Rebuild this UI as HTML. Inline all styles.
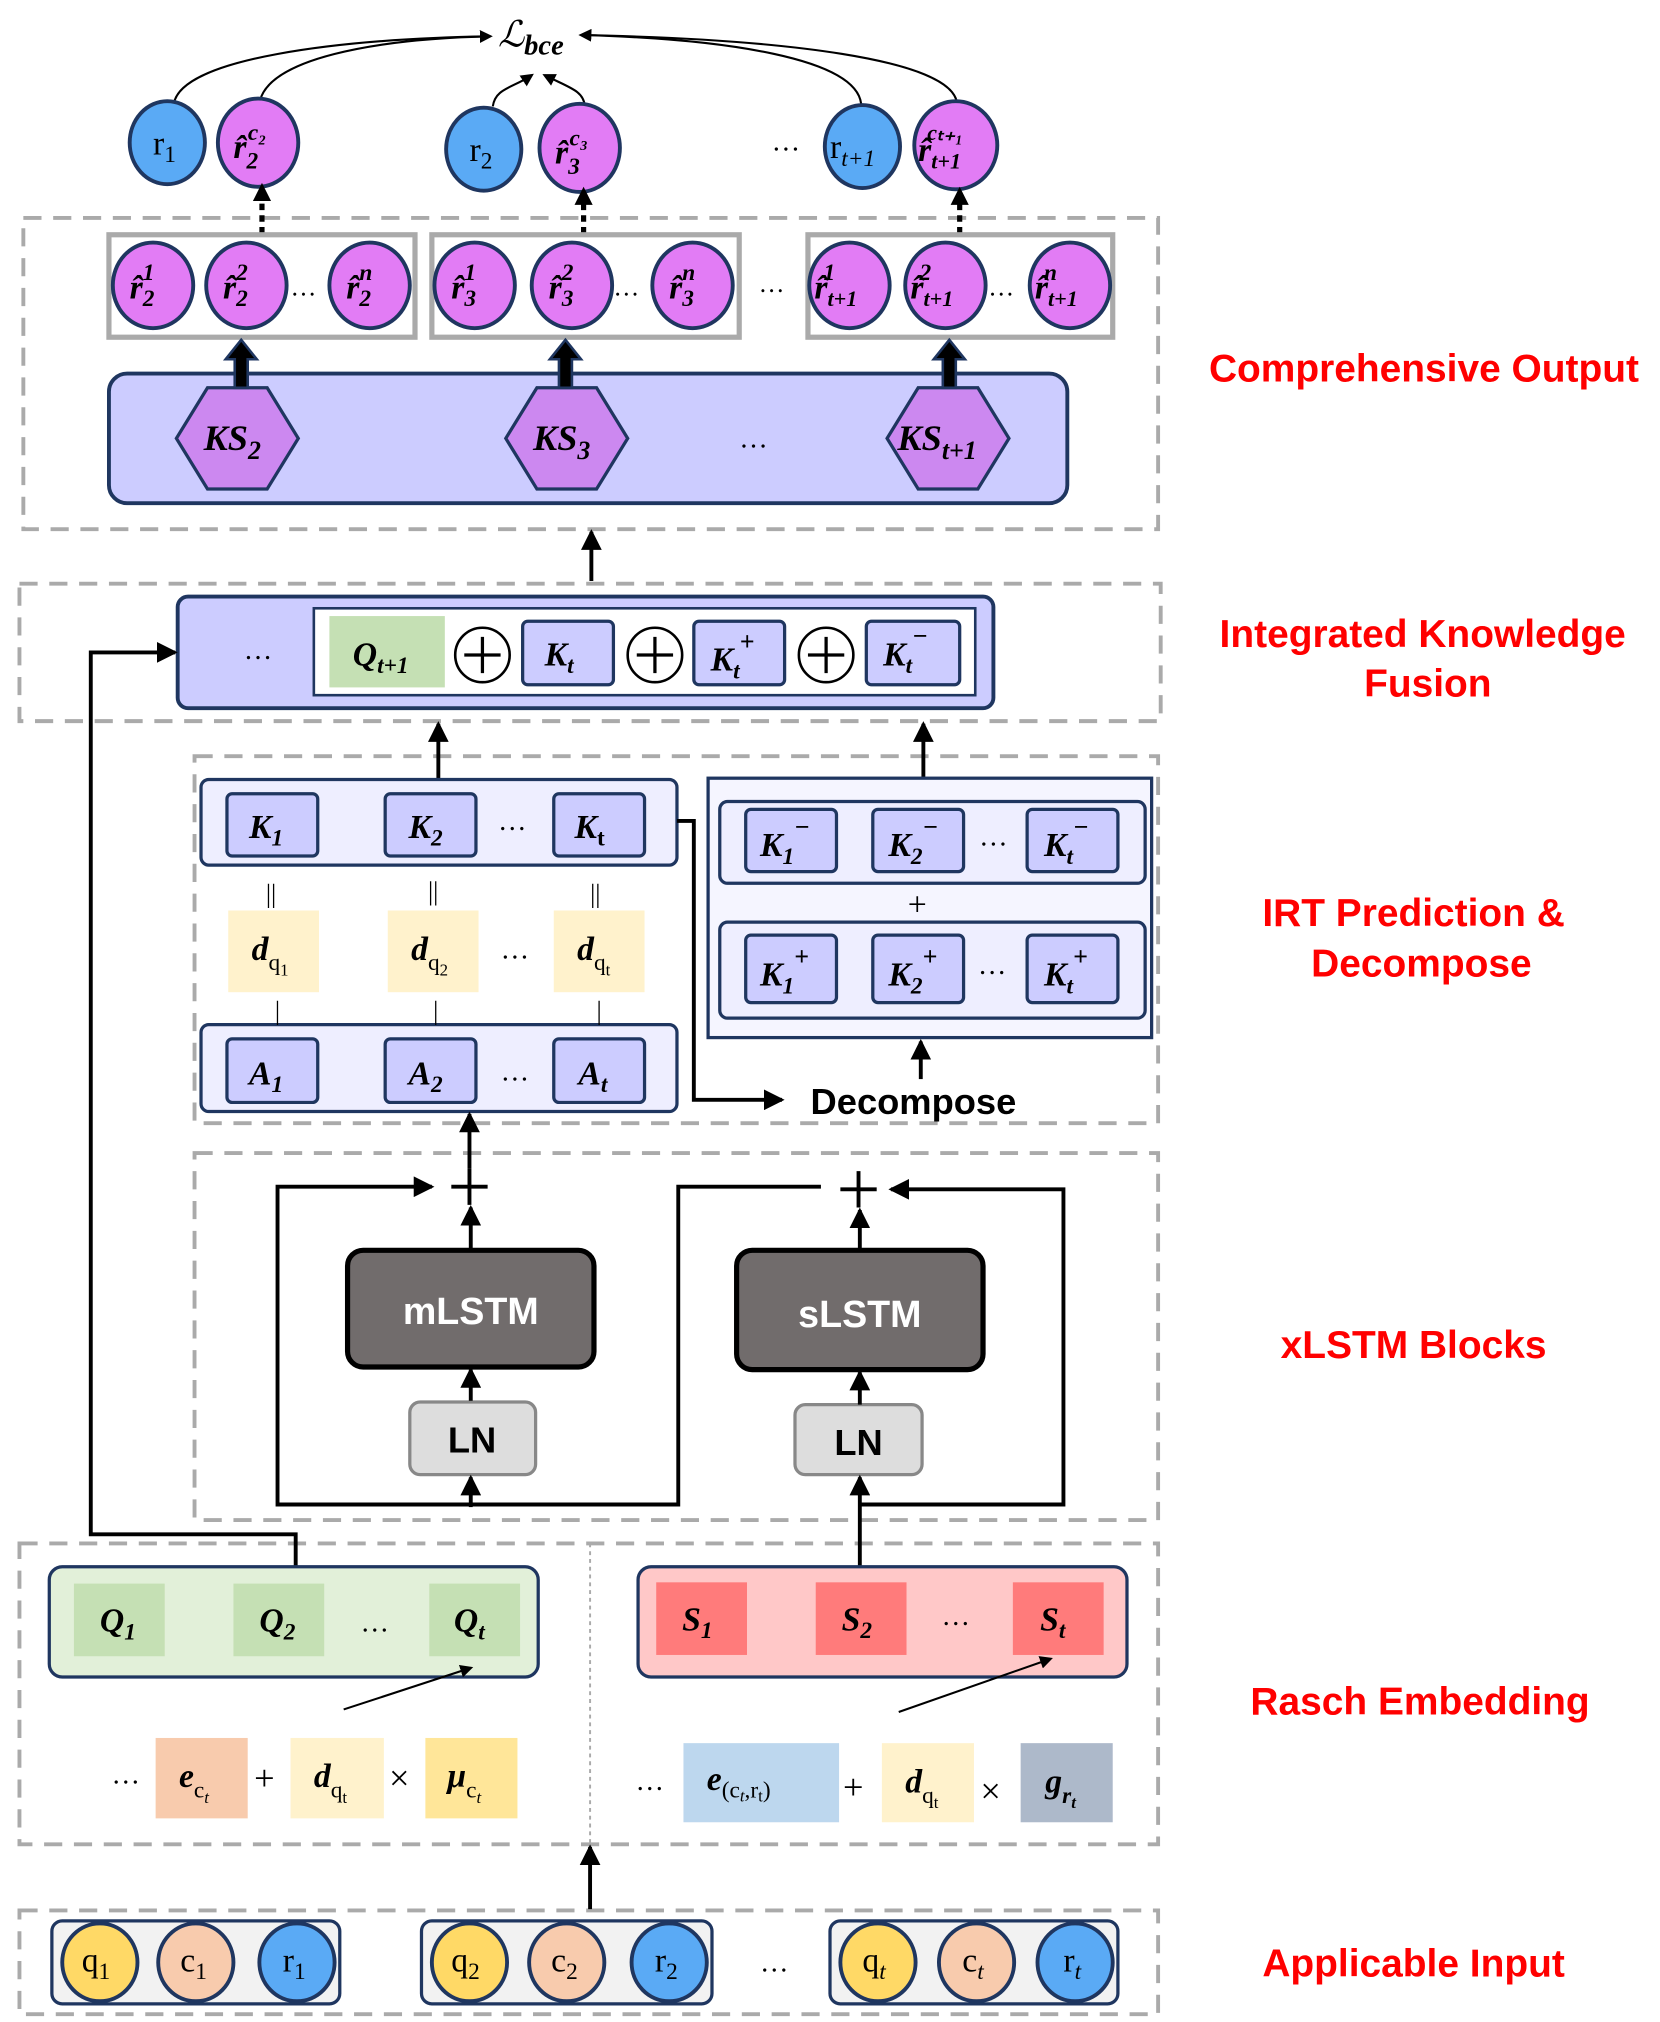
<!DOCTYPE html>
<html><head><meta charset="utf-8"><style>
html,body{margin:0;padding:0;background:#fff}
svg{display:block}
.m{font-family:"Liberation Serif",serif;font-style:italic;font-weight:bold}
.r{font-family:"Liberation Serif",serif}
.lab{font-family:"Liberation Sans",sans-serif;font-weight:bold;fill:#ff0000;font-size:30px}
</style></head><body>
<svg width="1660" height="2022" viewBox="0 0 1280 1559" preserveAspectRatio="none" xmlns="http://www.w3.org/2000/svg">
<defs>
<marker id="a" markerWidth="10" markerHeight="10" refX="8" refY="5" orient="auto" markerUnits="userSpaceOnUse"><path d="M0,0 L10,5 L0,10 z" fill="#000"/></marker>
<marker id="b" markerWidth="16" markerHeight="16" refX="14" refY="8" orient="auto" markerUnits="userSpaceOnUse"><path d="M0,0 L16,8 L0,16 z" fill="#000"/></marker>
</defs>
<g fill="none" stroke="#aaa" stroke-width="3" stroke-dasharray="14,9">
<rect x="18" y="168" width="875" height="240"/>
<rect x="15" y="450" width="880" height="106"/>
<rect x="150" y="583" width="743" height="283"/>
<rect x="150" y="889" width="743" height="283"/>
<rect x="15" y="1190" width="878" height="232"/>
<rect x="15" y="1473" width="878" height="80"/>
</g>
<line x1="455" y1="1190" x2="455" y2="1422" stroke="#aaa" stroke-width="1.5" stroke-dasharray="3,3"/>
<!-- top loss -->
<text x="384" y="36" class="r" font-style="italic" font-size="28">ℒ<tspan class="m" font-size="22" dy="6">bce</tspan></text>
<g fill="none" stroke="#000" stroke-width="1.6">
<path d="M134,80 C140,45 260,30 378,28" marker-end="url(#a)"/>
<path d="M200,80 C205,45 290,30 378,28"/>
<path d="M664,80 C660,45 560,30 448,27" marker-end="url(#a)"/>
<path d="M738,80 C735,45 600,30 448,27"/>
<path d="M380,82 C382,68 395,68 410,58" marker-end="url(#a)"/>
<path d="M451,82 C450,70 440,68 420,58" marker-end="url(#a)"/>
</g>
<g stroke="#1f3660" stroke-width="3">
<ellipse cx="129" cy="110" rx="29" ry="32" fill="#5aaaf5"/>
<ellipse cx="199" cy="110" rx="31" ry="34" fill="#e27cf5"/>
<ellipse cx="373" cy="115" rx="29" ry="32" fill="#5aaaf5"/>
<ellipse cx="447" cy="114" rx="31" ry="34" fill="#e27cf5"/>
<ellipse cx="665" cy="113" rx="29" ry="32" fill="#5aaaf5"/>
<ellipse cx="737" cy="112" rx="32" ry="34" fill="#e27cf5"/>
</g>
<g font-size="26">
<text x="118" y="119" class="r">r<tspan font-size="18" dy="6">1</tspan></text>
<text x="362" y="124" class="r">r<tspan font-size="18" dy="6">2</tspan></text>
<text x="640" y="122" class="r">r<tspan font-size="18" dy="6" font-style="italic">t+1</tspan></text>
<text x="180" y="122" class="m">r̂<tspan font-size="18" dy="8">2</tspan><tspan font-size="18" dx="-8" dy="-22">c₂</tspan></text>
<text x="428" y="126" class="m">r̂<tspan font-size="18" dy="8">3</tspan><tspan font-size="18" dx="-8" dy="-22">c₃</tspan></text>
<text x="708" y="124" class="m">r̂<tspan font-size="17" dy="6">t+1</tspan><tspan font-size="17" dx="-26" dy="-22">cₜ₊₁</tspan></text>
</g>
<text x="595" y="116" font-size="22" class="r">…</text>
<!-- dotted arrows -->
<g stroke="#000" stroke-width="4" stroke-dasharray="5,4">
<line x1="202" y1="180" x2="202" y2="152"/><line x1="450" y1="180" x2="450" y2="156"/><line x1="740" y1="180" x2="740" y2="156"/>
</g>
<path d="M195,155 L209,155 L202,141z M443,158 L457,158 L450,144z M733,158 L747,158 L740,144z" fill="#000"/>
<!-- groups -->
<g fill="#fff" stroke="#aaa" stroke-width="4">
<rect x="84" y="181" width="236" height="79"/><rect x="333" y="181" width="237" height="79"/><rect x="623" y="181" width="235" height="79"/>
</g>
<g stroke="#1f3660" stroke-width="3" fill="#e27cf5">
<ellipse cx="118" cy="220" rx="31" ry="33"/><ellipse cx="190" cy="220" rx="31" ry="33"/><ellipse cx="285" cy="220" rx="31" ry="33"/>
<ellipse cx="366" cy="220" rx="31" ry="33"/><ellipse cx="441" cy="220" rx="31" ry="33"/><ellipse cx="534" cy="220" rx="31" ry="33"/>
<ellipse cx="655" cy="220" rx="31" ry="33"/><ellipse cx="729" cy="220" rx="31" ry="33"/><ellipse cx="825" cy="220" rx="31" ry="33"/>
</g>
<g font-size="26" class="m">
<text x="100" y="230">r̂<tspan font-size="18" dy="6">2</tspan><tspan font-size="18" dx="-9" dy="-20">1</tspan></text>
<text x="172" y="230">r̂<tspan font-size="18" dy="6">2</tspan><tspan font-size="18" dx="-9" dy="-20">2</tspan></text>
<text x="267" y="230">r̂<tspan font-size="18" dy="6">2</tspan><tspan font-size="18" dx="-9" dy="-20">n</tspan></text>
<text x="348" y="230">r̂<tspan font-size="18" dy="6">3</tspan><tspan font-size="18" dx="-9" dy="-20">1</tspan></text>
<text x="423" y="230">r̂<tspan font-size="18" dy="6">3</tspan><tspan font-size="18" dx="-9" dy="-20">2</tspan></text>
<text x="516" y="230">r̂<tspan font-size="18" dy="6">3</tspan><tspan font-size="18" dx="-9" dy="-20">n</tspan></text>
<text x="628" y="230">r̂<tspan font-size="17" dy="6">t+1</tspan><tspan font-size="18" dx="-26" dy="-20">1</tspan></text>
<text x="702" y="230">r̂<tspan font-size="17" dy="6">t+1</tspan><tspan font-size="18" dx="-26" dy="-20">2</tspan></text>
<text x="798" y="230">r̂<tspan font-size="17" dy="6">t+1</tspan><tspan font-size="18" dx="-26" dy="-20">n</tspan></text>
</g>
<g font-size="20" class="r"><text x="224" y="228">…</text><text x="473" y="228">…</text><text x="762" y="228">…</text><text x="585" y="225">…</text></g>
<!-- KS bar -->
<rect x="84" y="288" width="739" height="100" rx="14" fill="#ccccff" stroke="#1f3660" stroke-width="3"/>
<g fill="#cc88f0" stroke="#1f3660" stroke-width="2.5">
<polygon points="160,299 206,299 230,338 206,377 160,377 136,338"/>
<polygon points="414,299 460,299 484,338 460,377 414,377 390,338"/>
<polygon points="708,299 754,299 778,338 754,377 708,377 684,338"/>
</g>
<g font-size="28" class="m">
<text x="157" y="347">KS<tspan font-size="20" dy="7">2</tspan></text>
<text x="411" y="347">KS<tspan font-size="20" dy="7">3</tspan></text>
<text x="692" y="347">KS<tspan font-size="20" dy="7">t+1</tspan></text>
</g>
<text x="570" y="345" font-size="22" class="r">…</text>
<g fill="#000" stroke="#1f3660" stroke-width="2">
<path d="M181,299 L181,277 L174,277 L186,262 L198,277 L191,277 L191,299z"/>
<path d="M431,299 L431,277 L424,277 L436,262 L448,277 L441,277 L441,299z"/>
<path d="M727,299 L727,277 L720,277 L732,262 L744,277 L737,277 L737,299z"/>
</g>
<!-- fusion -->
<line x1="456" y1="448" x2="456" y2="410" stroke="#000" stroke-width="3" marker-end="url(#b)"/>
<rect x="137" y="460" width="629" height="86" rx="8" fill="#ccccff" stroke="#1f3660" stroke-width="3"/>
<rect x="242" y="469" width="510" height="67" fill="#fff" stroke="#1f3660" stroke-width="2"/>
<rect x="254" y="475" width="89" height="55" fill="#c5e0b4"/>
<text x="188" y="508" font-size="22" class="r">…</text>
<text x="272" y="513" font-size="26" class="m">Q<tspan font-size="18" dy="6">t+1</tspan></text>
<g fill="#fff" stroke="#000" stroke-width="2"><circle cx="372" cy="505" r="21"/><circle cx="505" cy="505" r="21"/><circle cx="637" cy="505" r="21"/></g>
<g stroke="#000" stroke-width="2.5"><path d="M358,505h28M372,491v28M491,505h28M505,491v28M623,505h28M637,491v28"/></g>
<g fill="#ccccff" stroke="#1f3660" stroke-width="2.5">
<rect x="403" y="479" width="70" height="49" rx="4"/><rect x="535" y="479" width="70" height="49" rx="4"/><rect x="668" y="479" width="72" height="49" rx="4"/>
</g>
<g font-size="26" class="m">
<text x="420" y="513">K<tspan font-size="18" dy="6">t</tspan></text>
<text x="548" y="517">K<tspan font-size="18" dy="6">t</tspan><tspan font-size="20" dy="-22">+</tspan></text>
<text x="681" y="513">K<tspan font-size="18" dy="6">t</tspan><tspan font-size="20" dy="-22">−</tspan></text>
</g>
<polyline points="228,1208 228,1183 70,1183 70,503 135,503" fill="none" stroke="#000" stroke-width="3" marker-end="url(#b)"/>
<!-- IRT -->
<line x1="338" y1="601" x2="338" y2="558" stroke="#000" stroke-width="3" marker-end="url(#b)"/>
<line x1="712" y1="600" x2="712" y2="558" stroke="#000" stroke-width="3" marker-end="url(#b)"/>
<g fill="#eeeeff" stroke="#1f3660" stroke-width="2.5">
<rect x="155" y="601" width="367" height="66" rx="6"/><rect x="155" y="790" width="367" height="67" rx="6"/>
<rect x="546" y="600" width="342" height="200" fill="#f5f5ff"/>
<rect x="555" y="618" width="328" height="63" rx="6"/><rect x="555" y="711" width="328" height="74" rx="6"/>
</g>
<g fill="#ccccff" stroke="#1f3660" stroke-width="2.5">
<rect x="175" y="612" width="70" height="48" rx="4"/><rect x="297" y="612" width="70" height="48" rx="4"/><rect x="427" y="612" width="70" height="48" rx="4"/>
<rect x="175" y="801" width="70" height="49" rx="4"/><rect x="297" y="801" width="70" height="49" rx="4"/><rect x="427" y="801" width="70" height="49" rx="4"/>
<rect x="575" y="624" width="70" height="48" rx="4"/><rect x="673" y="624" width="70" height="48" rx="4"/><rect x="792" y="624" width="70" height="48" rx="4"/>
<rect x="575" y="721" width="70" height="52" rx="4"/><rect x="673" y="721" width="70" height="52" rx="4"/><rect x="792" y="721" width="70" height="52" rx="4"/>
</g>
<g fill="#fff2cc"><rect x="176" y="702" width="70" height="63"/><rect x="299" y="702" width="70" height="63"/><rect x="427" y="702" width="70" height="63"/></g>
<g font-size="26" class="m">
<text x="192" y="646">K<tspan font-size="18" dy="6">1</tspan></text>
<text x="315" y="646">K<tspan font-size="18" dy="6">2</tspan></text>
<text x="443" y="646">K<tspan font-size="18" dy="6" font-style="normal">t</tspan></text>
<text x="192" y="836">A<tspan font-size="18" dy="6">1</tspan></text>
<text x="315" y="836">A<tspan font-size="18" dy="6">2</tspan></text>
<text x="446" y="836">A<tspan font-size="18" dy="6">t</tspan></text>
<text x="194" y="740">d<tspan font-size="18" dy="8" font-style="normal" font-weight="normal">q<tspan font-size="13" dy="4">1</tspan></tspan></text>
<text x="317" y="740">d<tspan font-size="18" dy="8" font-style="normal" font-weight="normal">q<tspan font-size="13" dy="4">2</tspan></tspan></text>
<text x="445" y="740">d<tspan font-size="18" dy="8" font-style="normal" font-weight="normal">q<tspan font-size="13" dy="4">t</tspan></tspan></text>
<text x="586" y="660">K<tspan font-size="18" dy="6">1</tspan><tspan font-size="20" dy="-22">−</tspan></text>
<text x="685" y="660">K<tspan font-size="18" dy="6">2</tspan><tspan font-size="20" dy="-22">−</tspan></text>
<text x="805" y="660">K<tspan font-size="18" dy="6">t</tspan><tspan font-size="20" dy="-22">−</tspan></text>
<text x="586" y="760">K<tspan font-size="18" dy="6">1</tspan><tspan font-size="20" dy="-22">+</tspan></text>
<text x="685" y="760">K<tspan font-size="18" dy="6">2</tspan><tspan font-size="20" dy="-22">+</tspan></text>
<text x="805" y="760">K<tspan font-size="18" dy="6">t</tspan><tspan font-size="20" dy="-22">+</tspan></text>
</g>
<g font-size="22" class="r">
<text x="384" y="640">…</text><text x="386" y="739">…</text><text x="386" y="833">…</text><text x="755" y="652">…</text><text x="754" y="751">…</text>
<text x="205" y="696" font-size="20">||</text><text x="330" y="694" font-size="20">||</text><text x="455" y="696" font-size="20">||</text>
<text x="212" y="786" font-size="20">|</text><text x="334" y="786" font-size="20">|</text><text x="460" y="786" font-size="20">|</text>
<text x="700" y="706" font-size="26">+</text>
</g>
<polyline points="522,633 535,633 535,848 603,848" fill="none" stroke="#000" stroke-width="3" marker-end="url(#b)"/>
<text x="625" y="859" font-family="Liberation Sans,sans-serif" font-weight="bold" font-size="28">Decompose</text>
<line x1="710" y1="832" x2="710" y2="803" stroke="#000" stroke-width="3" marker-end="url(#b)"/>
<!-- xLSTM -->
<rect x="268" y="964" width="190" height="90" rx="12" fill="#716c6c" stroke="#000" stroke-width="4"/>
<rect x="568" y="964" width="190" height="92" rx="12" fill="#716c6c" stroke="#000" stroke-width="4"/>
<rect x="316" y="1081" width="97" height="56" rx="8" fill="#ddd" stroke="#888" stroke-width="2.5"/>
<rect x="613" y="1083" width="98" height="54" rx="8" fill="#ddd" stroke="#888" stroke-width="2.5"/>
<g font-family="Liberation Sans,sans-serif" font-weight="bold" text-anchor="middle">
<text x="363" y="1021" font-size="29" fill="#fff">mLSTM</text>
<text x="663" y="1023" font-size="29" fill="#fff">sLSTM</text>
<text x="364" y="1120" font-size="28">LN</text>
<text x="662" y="1122" font-size="28">LN</text>
</g>
<g stroke="#000" stroke-width="3" fill="none">
<path d="M348,915h28M362,901v28M648,917h28M662,903v28"/>
<polyline points="363,1160 214,1160 214,915 333,915" marker-end="url(#b)"/>
<polyline points="363,1160 523,1160 523,915 633,915"/>
<polyline points="663,1160 820,1160 820,917 687,917" marker-end="url(#b)"/>
<line x1="363" y1="1162" x2="363" y2="1139" marker-end="url(#b)"/>
<line x1="363" y1="1080" x2="363" y2="1056" marker-end="url(#b)"/>
<line x1="363" y1="964" x2="363" y2="931" marker-end="url(#b)"/>
<line x1="362" y1="901" x2="362" y2="859" marker-end="url(#b)"/>
<line x1="663" y1="1207" x2="663" y2="1139" marker-end="url(#b)"/>
<line x1="663" y1="1083" x2="663" y2="1058" marker-end="url(#b)"/>
<line x1="663" y1="964" x2="663" y2="933" marker-end="url(#b)"/>
</g>
<!-- Rasch -->
<rect x="38" y="1208" width="377" height="85" rx="10" fill="#e2f0d9" stroke="#1f3660" stroke-width="2.5"/>
<rect x="492" y="1208" width="377" height="85" rx="10" fill="#ffc8c8" stroke="#1f3660" stroke-width="2.5"/>
<g fill="#c5e0b4"><rect x="57" y="1221" width="70" height="56"/><rect x="180" y="1221" width="70" height="56"/><rect x="331" y="1221" width="70" height="56"/></g>
<g fill="#ff7b7b"><rect x="506" y="1220" width="70" height="56"/><rect x="629" y="1220" width="70" height="56"/><rect x="781" y="1220" width="70" height="56"/></g>
<g font-size="26" class="m">
<text x="77" y="1258">Q<tspan font-size="18" dy="6">1</tspan></text>
<text x="200" y="1258">Q<tspan font-size="18" dy="6">2</tspan></text>
<text x="350" y="1258">Q<tspan font-size="18" dy="6">t</tspan></text>
<text x="526" y="1257">S<tspan font-size="18" dy="6">1</tspan></text>
<text x="649" y="1257">S<tspan font-size="18" dy="6">2</tspan></text>
<text x="802" y="1257">S<tspan font-size="18" dy="6">t</tspan></text>
</g>
<g font-size="22" class="r"><text x="278" y="1258">…</text><text x="726" y="1253">…</text><text x="86" y="1375">…</text><text x="490" y="1380">…</text></g>
<g stroke="#000" stroke-width="1.6"><line x1="265" y1="1318" x2="363" y2="1286" marker-end="url(#a)"/><line x1="693" y1="1320" x2="810" y2="1279" marker-end="url(#a)"/></g>
<rect x="120" y="1340" width="71" height="62" fill="#f8cbad"/>
<rect x="224" y="1340" width="72" height="62" fill="#fff2cc"/>
<rect x="328" y="1340" width="71" height="62" fill="#ffe699"/>
<rect x="527" y="1344" width="120" height="61" fill="#bdd7ee"/>
<rect x="680" y="1344" width="71" height="61" fill="#fff2cc"/>
<rect x="787" y="1344" width="71" height="61" fill="#adb9ca"/>
<g font-size="26" class="m">
<text x="138" y="1378">e<tspan font-size="18" dy="8" font-style="normal" font-weight="normal">c<tspan font-size="13" dy="4" font-style="italic">t</tspan></tspan></text>
<text x="242" y="1378">d<tspan font-size="18" dy="8" font-style="normal" font-weight="normal">q<tspan font-size="13" dy="4">t</tspan></tspan></text>
<text x="345" y="1378">μ<tspan font-size="18" dy="8" font-style="normal" font-weight="normal">c<tspan font-size="13" dy="4" font-style="italic">t</tspan></tspan></text>
<text x="545" y="1380">e<tspan font-size="18" dy="6" font-style="normal" font-weight="normal">(c<tspan font-size="13" dy="3" font-style="italic">t</tspan><tspan dy="-3">,r</tspan><tspan font-size="13" dy="3">t</tspan><tspan dy="-3">)</tspan></tspan></text>
<text x="698" y="1382">d<tspan font-size="18" dy="8" font-style="normal" font-weight="normal">q<tspan font-size="13" dy="4">t</tspan></tspan></text>
<text x="806" y="1382">g<tspan font-size="18" dy="8">r<tspan font-size="13" dy="4">t</tspan></tspan></text>
</g>
<g font-size="28" class="r"><text x="196" y="1380">+</text><text x="300" y="1380">×</text><text x="650" y="1387">+</text><text x="756" y="1390">×</text></g>
<!-- input -->
<line x1="455" y1="1472" x2="455" y2="1424" stroke="#000" stroke-width="3" marker-end="url(#b)"/>
<g fill="#f2f2f2" stroke="#1f3660" stroke-width="2.5">
<rect x="40" y="1481" width="222" height="64" rx="8"/><rect x="325" y="1481" width="224" height="64" rx="8"/><rect x="640" y="1481" width="222" height="64" rx="8"/>
</g>
<g stroke="#1f3660" stroke-width="3">
<ellipse cx="77" cy="1513" rx="29" ry="30" fill="#ffd966"/><ellipse cx="151" cy="1513" rx="29" ry="30" fill="#f8cbad"/><ellipse cx="229" cy="1513" rx="29" ry="30" fill="#5aaaf5"/>
<ellipse cx="362" cy="1513" rx="29" ry="30" fill="#ffd966"/><ellipse cx="437" cy="1513" rx="29" ry="30" fill="#f8cbad"/><ellipse cx="516" cy="1513" rx="29" ry="30" fill="#5aaaf5"/>
<ellipse cx="677" cy="1513" rx="29" ry="30" fill="#ffd966"/><ellipse cx="753" cy="1513" rx="29" ry="30" fill="#f8cbad"/><ellipse cx="829" cy="1513" rx="29" ry="30" fill="#5aaaf5"/>
</g>
<g font-size="26" class="r">
<text x="63" y="1520">q<tspan font-size="18" dy="6">1</tspan></text><text x="139" y="1520">c<tspan font-size="18" dy="6">1</tspan></text><text x="218" y="1520">r<tspan font-size="18" dy="6">1</tspan></text>
<text x="348" y="1520">q<tspan font-size="18" dy="6">2</tspan></text><text x="425" y="1520">c<tspan font-size="18" dy="6">2</tspan></text><text x="505" y="1520">r<tspan font-size="18" dy="6">2</tspan></text>
<text x="665" y="1520">q<tspan font-size="18" dy="6" font-style="italic">t</tspan></text><text x="742" y="1520">c<tspan font-size="18" dy="6" font-style="italic">t</tspan></text><text x="820" y="1520">r<tspan font-size="18" dy="6" font-style="italic">t</tspan></text>
<text x="586" y="1520" font-size="22">…</text>
</g>
<!-- labels -->
<g class="lab" text-anchor="middle">
<text x="1098" y="294">Comprehensive Output</text>
<text x="1097" y="499">Integrated Knowledge</text>
<text x="1101" y="537">Fusion</text>
<text x="1090" y="714">IRT Prediction &amp;</text>
<text x="1096" y="753">Decompose</text>
<text x="1090" y="1047">xLSTM Blocks</text>
<text x="1095" y="1322">Rasch Embedding</text>
<text x="1090" y="1524">Applicable Input</text>
</g>
</svg>
</body></html>
